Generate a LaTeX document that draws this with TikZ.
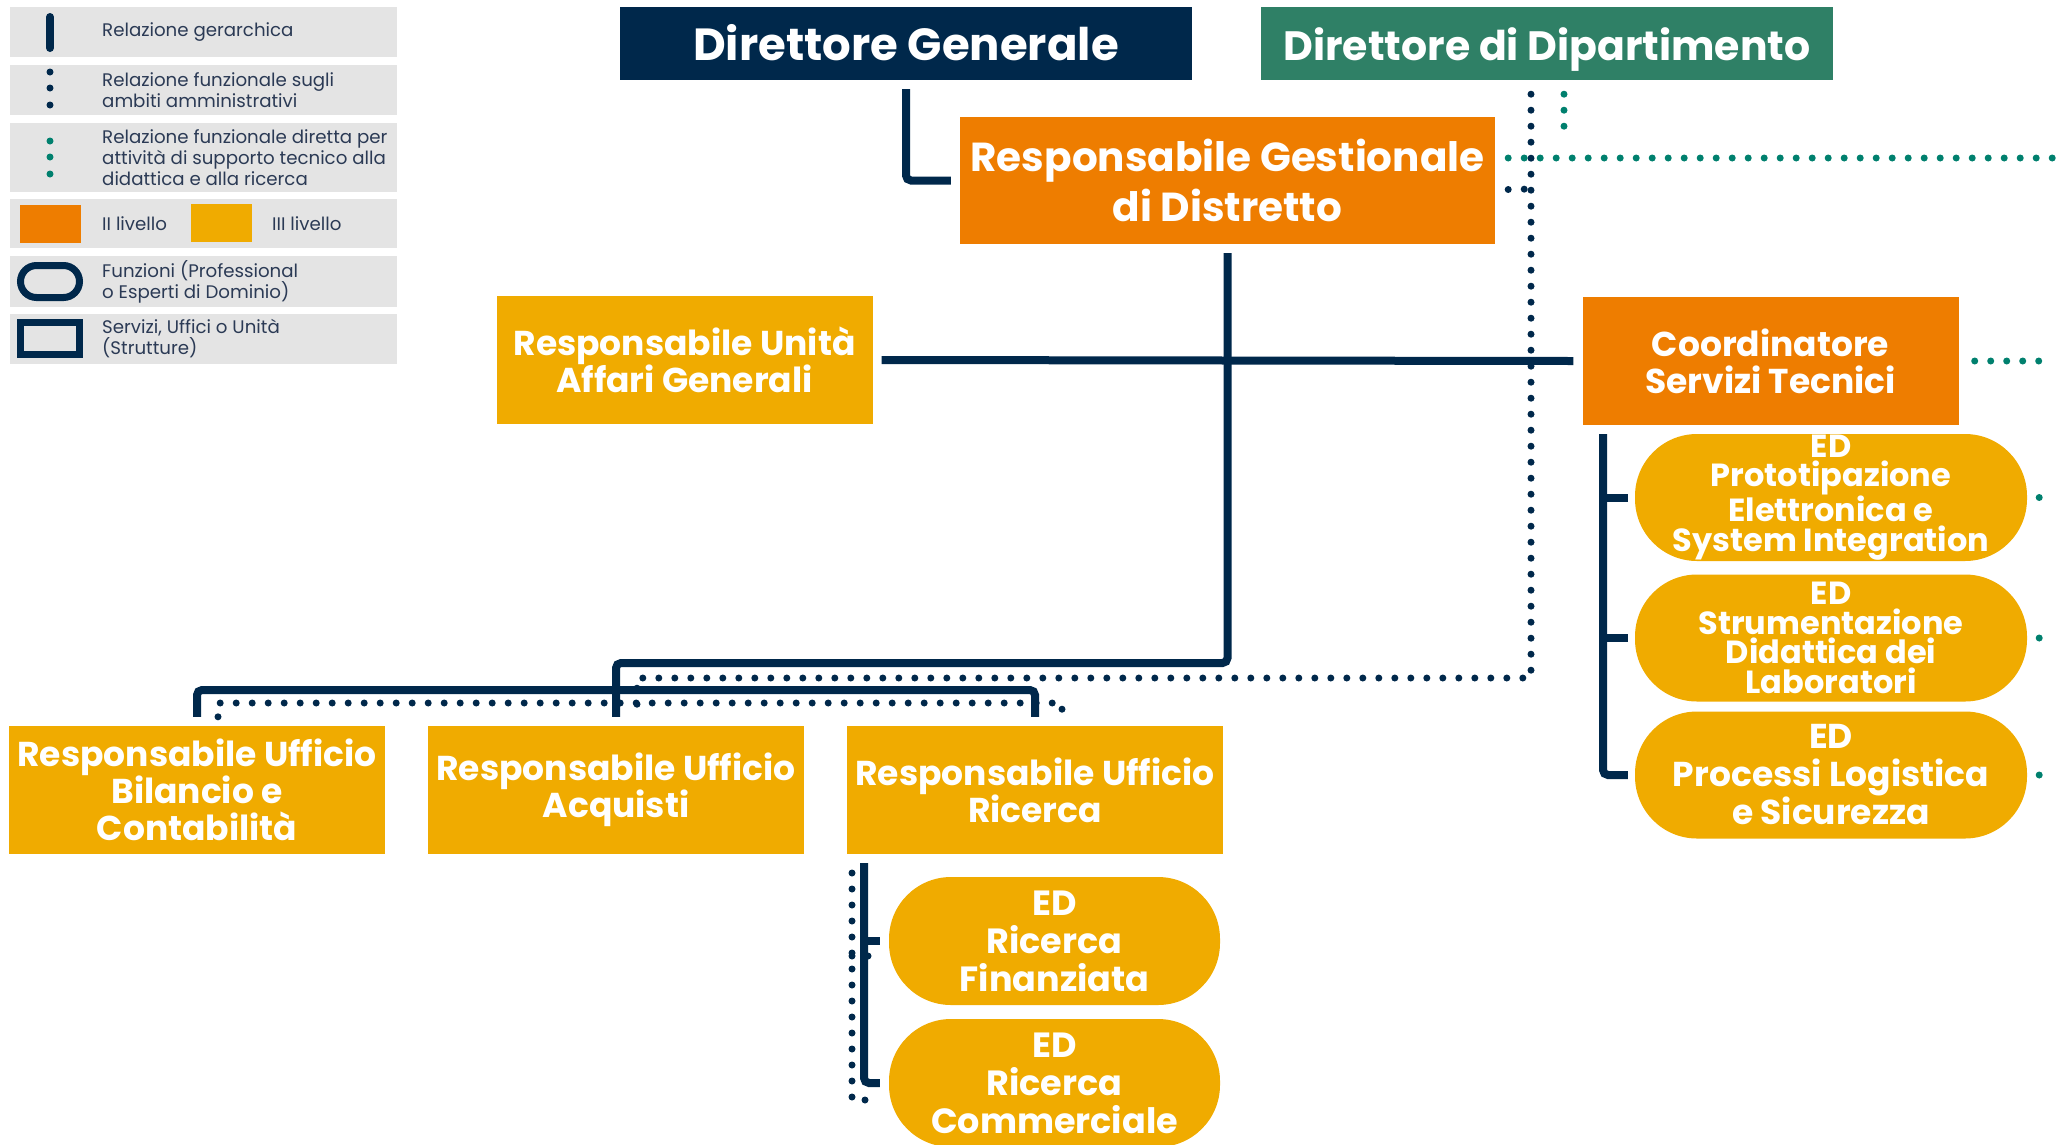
\documentclass[tikz,border=0pt]{standalone}
\usepackage{fontspec}
\setmainfont{Poppins}
\definecolor{blu}{HTML}{00284B}
\definecolor{verde}{HTML}{2F8066}
\definecolor{verdeacqua}{HTML}{00806E}
\definecolor{arancio}{HTML}{EE7D00}
\definecolor{giallo}{HTML}{F0AB00}
\definecolor{grigio}{HTML}{E4E4E4}
\definecolor{testoleg}{HTML}{2B3A55}

\begin{document}
\begin{tikzpicture}[x=1pt, y=-1pt,
    struttura/.style={rectangle, inner sep=0pt, text=white, align=center},
    capo/.style={struttura, minimum width=572pt, minimum height=73pt,
        text height=42pt, text depth=8pt},
    ufficio/.style={struttura, fill=giallo, minimum width=376pt, minimum height=128pt,
        font=\fontsize{34.5}{37}\selectfont\bfseries},
    funzione/.style={struttura, fill=giallo, rounded corners=62pt},
    legenda/.style={anchor=west, inner sep=0pt, align=left, text=testoleg,
        font=\fontsize{18.2}{21}\selectfont},
    gerarchica/.style={draw=blu, line width=8pt, rounded corners=5pt},
    amministrativa/.style={draw=blu, line width=7pt, line cap=round,
        dash pattern=on 0pt off 16pt},
    tecnica/.style={draw=verdeacqua, line width=7pt, line cap=round,
        dash pattern=on 0pt off 16pt}]
    \useasboundingbox (0,0) rectangle (2059,1144);

    \foreach \y/\h in {7/50, 65/50, 123/69, 199/49, 256/51, 314/50}
        \fill[grigio] (10,\y) rectangle ++(387,\h);
    \draw[blu, line width=8pt, line cap=round] (50,17) -- (50,48);
    \foreach \y in {72,88,105}
        \fill[blu] (50,\y) circle (3.5pt);
    \foreach \y in {141,157,174}
        \fill[verdeacqua] (50,\y) circle (3.5pt);
    \fill[arancio] (20,205) rectangle (81,243);
    \fill[giallo] (191,204) rectangle (252,242);
    \draw[blu, line width=7pt, rounded corners=16pt] (20.5,265.5) rectangle (79.5,297.5);
    \draw[blu, line width=7pt] (20.5,322.5) rectangle (79.5,354.5);
    \node[legenda] (l1) at (102,32) {Relazione gerarchica};
    \node[legenda] (l2) at (102,90) {Relazione funzionale sugli\\ambiti amministrativi};
    \node[legenda] (l3) at (102,157.5) {Relazione funzionale diretta per\\attività di supporto tecnico alla\\didattica e alla ricerca};
    \node[legenda] (l4) at (102,224) {II livello};
    \node[legenda] (l5) at (272,224) {III livello};
    \node[legenda] (l6) at (102,281.5) {Funzioni (Professional\\o Esperti di Dominio)};
    \node[legenda] (l7) at (102,339) {Servizi, Uffici o Unità\\(Strutture)};

    \node[capo, fill=blu, font=\fontsize{45}{50}\selectfont\bfseries] (dg) at (906,43.5)
        {Direttore Generale};
    \node[capo, fill=verde, font=\fontsize{41}{46}\selectfont\bfseries] (ddd) at (1547,43.5)
        {Direttore di Dipartimento};
    \node[struttura, fill=arancio, minimum width=535pt, minimum height=127pt,
        font=\fontsize{40.5}{50}\selectfont\bfseries] (rgd) at (1227.5,180.5)
        {Responsabile Gestionale\\di Distretto};
    \node[ufficio] (ruag) at (684.5,360) {Responsabile Unità\\Affari Generali};
    \node[ufficio, fill=arancio] (cst) at (1770.5,361) {Coordinatore\\Servizi Tecnici};
    \node[ufficio] (rub) at (197,790) {Responsabile Ufficio\\Bilancio e\\Contabilità};
    \node[ufficio] (rua) at (616,790) {Responsabile Ufficio\\Acquisti};
    \node[ufficio] (rur) at (1035,790) {Responsabile Ufficio\\Ricerca};

    \node[funzione, minimum width=392pt, minimum height=127pt,
        font=\fontsize{32}{29.5}\selectfont\bfseries] (ed1) at (1831,497.5)
        {ED\\Prototipazione\\Elettronica e\\System Integration};
    \node[funzione, minimum width=392pt, minimum height=127pt,
        font=\fontsize{32}{29.5}\selectfont\bfseries] (ed2) at (1831,638)
        {ED\\Strumentazione\\Didattica dei\\Laboratori};
    \node[funzione, minimum width=392pt, minimum height=127pt,
        font=\fontsize{34.5}{38}\selectfont\bfseries] (ed3) at (1831,775)
        {ED\\Processi Logistica\\e Sicurezza};
    \node[funzione, minimum width=331pt, minimum height=128pt,
        font=\fontsize{35}{38}\selectfont\bfseries] (edf) at (1054.5,941)
        {ED\\Ricerca\\Finanziata};
    \node[funzione, minimum width=331pt, minimum height=128pt,
        font=\fontsize{35}{38}\selectfont\bfseries] (edc) at (1054.5,1083)
        {ED\\Ricerca\\Commerciale};

    \coordinate (snodo) at (1227.5,663);
    \coordinate (barra) at (600,690);
    \coordinate (giunto) at (637,678);
    \coordinate (ponte) at (600,703);
    \coordinate (st) at (1603,434);
    \coordinate (rt) at (864,863);
    \coordinate (rp) at (852,873);
    \coordinate (bordo) at (2070,158);

    \draw[gerarchica] ([yshift=-9pt]dg.south) |- ([xshift=-9pt]rgd.west);
    \draw[gerarchica] ([yshift=-9pt]rgd.south) -- (snodo) -| ([yshift=9pt]rua.north);
    \draw[gerarchica] ([xshift=9pt]ruag.east) -- ([xshift=-9pt]cst.west);
    \draw[gerarchica] ([yshift=9pt]rub.north) |- (barra) -| ([yshift=9pt]rur.north);
    \draw[gerarchica] (st) |- ([xshift=-7pt]ed3.west);
    \foreach \e in {ed1,ed2}
        \draw[gerarchica] (st |- \e.west) -- ([xshift=-7pt]\e.west);
    \draw[gerarchica] (rt) |- ([xshift=-9pt]edc.west);
    \draw[gerarchica] (rt |- edf.west) -- ([xshift=-9pt]edf.west);

    \draw[amministrativa] ([xshift=-16pt,yshift=-14pt]ddd.south) |- (giunto)
        -- ([xshift=21pt,yshift=13pt]rua.north);
    \draw[amministrativa] ([xshift=13pt,yshift=-9pt]rgd.east) -- (1531,189);
    \draw[amministrativa] ([xshift=21pt,yshift=9pt]rub.north) |- (ponte)
        -| ([xshift=27pt,yshift=9pt]rur.north);
    \draw[amministrativa] (rp) |- ([xshift=-8pt,yshift=-17pt]edc.west);
    \draw[amministrativa] (rp |- 0,956) -- ([xshift=-8pt,yshift=-15pt]edf.west);

    \draw[tecnica] ([xshift=17pt,yshift=-14pt]ddd.south) -- ++(0,34);
    \draw[tecnica] ([xshift=13pt,yshift=22.5pt]rgd.east) -- (bordo);
    \draw[tecnica] ([xshift=16pt]cst.east) -- ++(65,0);
    \foreach \e in {ed1,ed2,ed3}
        \fill[verdeacqua] ([xshift=12pt]\e.east) circle (3.5pt);
\end{tikzpicture}
\end{document}
